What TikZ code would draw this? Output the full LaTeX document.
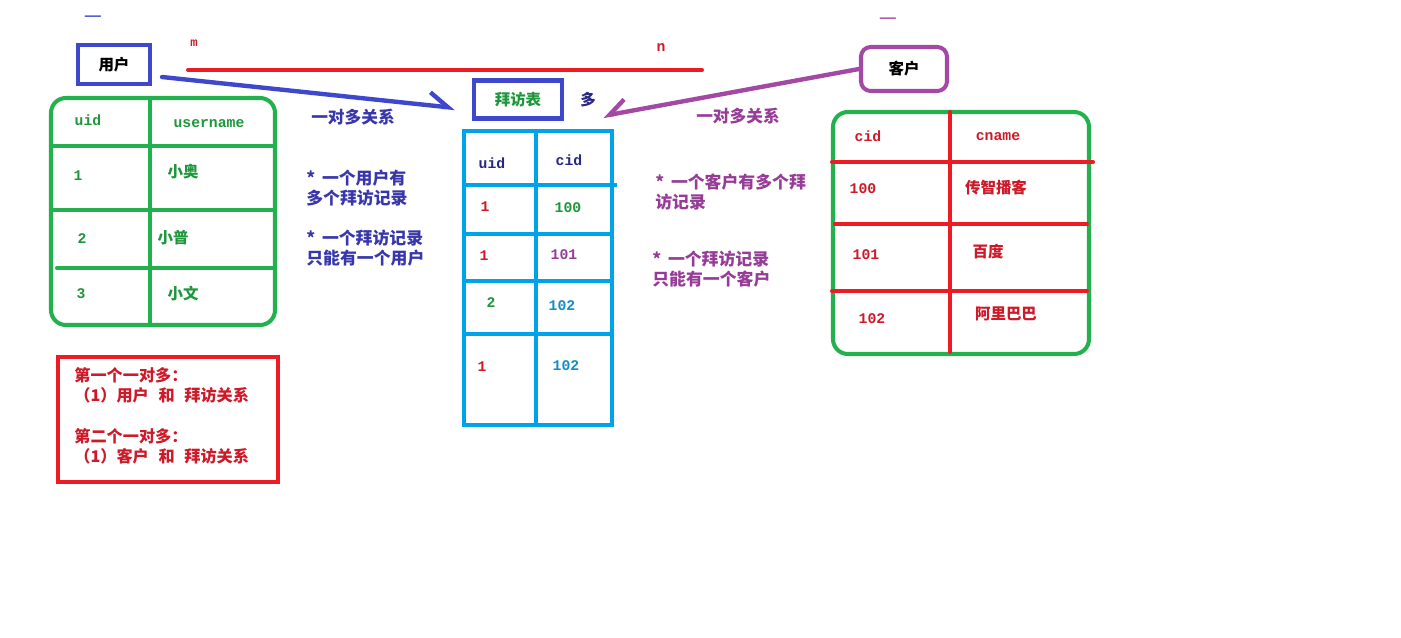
\documentclass[tikz,border=0pt]{standalone}
\usepackage{fontspec}
\setmainfont{Noto Sans CJK SC}
\setmonofont{Liberation Mono}
\usepackage{tikz}
\usetikzlibrary{arrows.meta}
\definecolor{pred}{RGB}{237,28,36}
\definecolor{pblue}{RGB}{63,72,204}
\definecolor{ppurple}{RGB}{163,73,164}
\definecolor{pcyan}{RGB}{0,162,232}
\definecolor{pgreen}{RGB}{34,177,76}
\definecolor{tgreen}{RGB}{30,150,60}
\definecolor{tred}{RGB}{205,25,40}
\definecolor{tblue}{RGB}{55,55,170}
\definecolor{tnavy}{RGB}{40,40,130}
\definecolor{tpurple}{RGB}{150,60,150}
\definecolor{tcyan}{RGB}{20,140,200}
\tikzset{every node/.style={inner sep=0pt}}
\tikzset{tabline/.style={line width=2.3pt}}
\tikzset{cjk/.style={font=\fontsize{8.8}{10}\selectfont\bfseries}}
\tikzset{code/.style={font=\fontsize{8.4}{10}\selectfont\ttfamily\bfseries}}
\tikzset{note/.style={align=left, anchor=west, font=\fontsize{9.6}{11.4}\selectfont\bfseries}}

\begin{document}
\begin{tikzpicture}[x=0.02cm, y=-0.02cm]
		\useasboundingbox (0,0) rectangle (1401,637);
		\node[draw=pblue, line width=2.3pt, minimum width=1.44cm, minimum height=0.78cm, cjk] (user) at (114,64.5) {用户};
		\node[draw=pblue, line width=2.3pt, minimum width=1.76cm, minimum height=0.76cm, cjk, text=tgreen] (visit) at (518,99.5) {拜访表};
		\node[draw=ppurple, line width=2.3pt, rounded corners=5.5pt, minimum width=1.72cm, minimum height=0.88cm, cjk] (cust) at (904,69) {客户};
		\node[text=pblue, font=\fontsize{10}{10}\selectfont] (userOne) at (93,20) {一};
		\node[text=ppurple, font=\fontsize{10}{10}\selectfont] (custOne) at (888,22) {一};
		\node[text=tred, code, font=\fontsize{7}{8}\selectfont\ttfamily\bfseries] (m) at (194,43) {m};
		\node[text=tred, code] (n) at (661,48) {n};
		\node[text=tnavy, cjk] (many) at (588,100) {多};
		\node[text=tblue, cjk, font=\fontsize{9.5}{10}\selectfont\bfseries] (relA) at (353,117) {一对多关系};
		\node[text=tpurple, cjk, font=\fontsize{9.5}{10}\selectfont\bfseries] (relB) at (738,116) {一对多关系};
		\coordinate (mL) at (188,70);
		\coordinate (nR) at (702,70);
		\draw [pred, line width=2.3pt, line cap=round] (mL) -- (nR);
		\draw [pblue, line width=2.5pt, line cap=round, -{Straight Barb[harpoon, length=0.38cm, width=0.52cm]}] ([shift={(10,12.5)}]user.east) -- ([shift={(-17,8.5)}]visit.west);
		\draw [ppurple, line width=2.5pt, line cap=round, -{Straight Barb[harpoon, swap, length=0.34cm, width=0.5cm]}] (cust.west) -- ([shift={(39,16.5)}]visit.east);
		\draw[pgreen, tabline, rounded corners=8.5pt] (51,98) rectangle (275,325);
		\draw[pgreen, tabline] (150,98) -- (150,325);
		\draw[pgreen, tabline] (51,146) -- (275,146);
		\draw[pgreen, tabline] (51,210) -- (275,210);
		\draw[pgreen, tabline, line cap=round] (57,268) -- (275,268);
		\node[code, text=tgreen] (uH1) at (88,120) {uid};
		\node[code, text=tgreen] (uH2) at (209,124) {username};
		\node[code, text=tgreen] (u11) at (78,176) {1};
		\node[cjk, text=tgreen] (u12) at (183,172) {小奥};
		\node[code, text=tgreen] (u21) at (82,239) {2};
		\node[cjk, text=tgreen] (u22) at (173,238) {小普};
		\node[code, text=tgreen] (u31) at (81,294) {3};
		\node[cjk, text=tgreen] (u32) at (183,294) {小文};
		\draw[pcyan, tabline] (464,131) rectangle (612,425);
		\draw[pcyan, tabline] (536,131) -- (536,425);
		\draw[pcyan, tabline] (464,185) -- (617,185);
		\draw[pcyan, tabline] (464,234) -- (612,234);
		\draw[pcyan, tabline] (464,281) -- (612,281);
		\draw[pcyan, tabline] (464,334) -- (612,334);
		\node[code, text=tnavy] (vH1) at (492,163) {uid};
		\node[code, text=tnavy] (vH2) at (569,160) {cid};
		\node[code, text=tred] (v11) at (485,207) {1};
		\node[code, text=tgreen] (v12) at (568,208) {100};
		\node[code, text=tred] (v21) at (484,256) {1};
		\node[code, text=tpurple] (v22) at (564,255) {101};
		\node[code, text=tgreen] (v31) at (491,303) {2};
		\node[code, text=tcyan] (v32) at (562,306) {102};
		\node[code, text=tred] (v41) at (482,367) {1};
		\node[code, text=tcyan] (v42) at (566,366) {102};
		\draw[pgreen, tabline, rounded corners=8.5pt] (833,112) rectangle (1089,354);
		\draw[pred, tabline, line cap=round] (950,112) -- (950,352);
		\draw[pred, tabline, line cap=round] (832,162) -- (1093,162);
		\draw[pred, tabline, line cap=round] (835,224) -- (1087,224);
		\draw[pred, tabline, line cap=round] (832,291) -- (1087,291);
		\node[code, text=tred] (cH1) at (868,136) {cid};
		\node[code, text=tred] (cH2) at (998,137) {cname};
		\node[code, text=tred] (c11) at (863,189) {100};
		\node[cjk, text=tred] (c12) at (996,188) {传智播客};
		\node[code, text=tred] (c21) at (866,255) {101};
		\node[cjk, text=tred] (c22) at (988,252) {百度};
		\node[code, text=tred] (c31) at (872,319) {102};
		\node[cjk, text=tred] (c32) at (1006,314) {阿里巴巴};
		\node[note, text=tblue] (noteA) at (306,188) {*\hspace{0.4em}一个用户有\\多个拜访记录};
		\node[note, text=tblue] (noteB) at (306,248) {*\hspace{0.4em}一个拜访记录\\只能有一个用户};
		\node[note, text=tpurple] (noteC) at (655,192) {*\hspace{0.4em}一个客户有多个拜\\访记录};
		\node[note, text=tpurple] (noteD) at (652,269) {*\hspace{0.4em}一个拜访记录\\只能有一个客户};
		\draw[pred, line width=2.8pt] (58,357) rectangle (278,482);
		\node[note, text=tred, font=\fontsize{9.2}{11.6}\selectfont\bfseries] (summary) at (74,416) {第一个一对多：\\（1）用户\hspace{0.6em}和\hspace{0.6em}拜访关系\\[11.6pt]第二个一对多：\\（1）客户\hspace{0.6em}和\hspace{0.6em}拜访关系};
	\end{tikzpicture}
\end{document}
